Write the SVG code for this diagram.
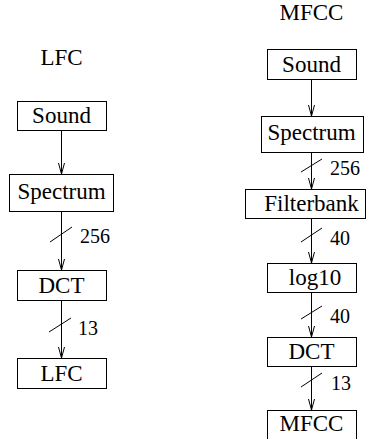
<svg xmlns="http://www.w3.org/2000/svg" width="380" height="439" viewBox="0 0 380 439">
<defs>
<style>
text{font-family:"Liberation Serif",serif;fill:#000;font-size:23px;text-anchor:middle}
text.n{font-size:20px;text-anchor:start}
rect{fill:#fff;stroke:#000;stroke-width:1}
.e{stroke:#000;stroke-width:1;fill:none}
.s{stroke:#000;stroke-width:1}
</style>
<marker id="v" markerUnits="userSpaceOnUse" markerWidth="14" markerHeight="8" refX="11" refY="4" orient="auto" viewBox="0 0 14 8">
<path d="M0,1 L11,4 L0,7" fill="none" stroke="#000" stroke-width="1"/>
</marker>
</defs>
<rect x="0" y="0" width="380" height="439" style="fill:#fff;stroke:none"/>
<text x="61.5" y="65" style="font-family:'Liberation Serif',serif">LFC</text>
<text x="311.5" y="20" style="font-family:'Liberation Serif',serif">MFCC</text>
<g id="connectors">
<line class="e" x1="61.5" y1="130" x2="61.5" y2="174" marker-end="url(#v)"/>
<line class="e" x1="61.5" y1="211" x2="61.5" y2="270" marker-end="url(#v)"/>
<line class="e" x1="61.5" y1="300" x2="61.5" y2="358" marker-end="url(#v)"/>
<line class="s" x1="50" y1="242" x2="72" y2="227"/>
<line class="s" x1="49" y1="332" x2="71" y2="318"/>
<text class="n" x="80" y="243" style="font-family:'Liberation Serif',serif">256</text>
<text class="n" x="78" y="335" style="font-family:'Liberation Serif',serif">13</text>
<line class="e" x1="311.5" y1="79" x2="311.5" y2="116" marker-end="url(#v)"/>
<line class="e" x1="311.5" y1="152" x2="311.5" y2="189" marker-end="url(#v)"/>
<line class="e" x1="311.5" y1="218" x2="311.5" y2="263" marker-end="url(#v)"/>
<line class="e" x1="311.5" y1="292" x2="311.5" y2="337" marker-end="url(#v)"/>
<line class="e" x1="311.5" y1="366" x2="311.5" y2="410" marker-end="url(#v)"/>
<line class="s" x1="301" y1="172" x2="322" y2="159"/>
<line class="s" x1="301" y1="242" x2="322" y2="228"/>
<line class="s" x1="301" y1="319" x2="322" y2="306"/>
<line class="s" x1="301" y1="387" x2="322" y2="373"/>
<text class="n" x="330" y="175" style="font-family:'Liberation Serif',serif">256</text>
<text class="n" x="330" y="245" style="font-family:'Liberation Serif',serif">40</text>
<text class="n" x="330" y="323" style="font-family:'Liberation Serif',serif">40</text>
<text class="n" x="331" y="390" style="font-family:'Liberation Serif',serif">13</text>
</g>
<g id="lfc-sound"><rect x="17.5" y="101.5" width="89" height="29"/><text x="61.5" y="123" style="font-family:'Liberation Serif',serif">Sound</text></g>
<g id="lfc-spectrum"><rect x="9.5" y="174.5" width="104" height="37"/><text x="61.5" y="199" style="font-family:'Liberation Serif',serif">Spectrum</text></g>
<g id="lfc-dct"><rect x="17.5" y="270.5" width="89" height="30"/><text x="61.5" y="293" style="font-family:'Liberation Serif',serif">DCT</text></g>
<g id="lfc-lfc"><rect x="17.5" y="358.5" width="89" height="30"/><text x="61.5" y="381" style="font-family:'Liberation Serif',serif">LFC</text></g>
<g id="mfcc-sound"><rect x="267.5" y="49.5" width="89" height="30"/><text x="311.5" y="72" style="font-family:'Liberation Serif',serif">Sound</text></g>
<g id="mfcc-spectrum"><rect x="261.5" y="116.5" width="102" height="36"/><text x="311.5" y="140" style="font-family:'Liberation Serif',serif">Spectrum</text></g>
<g id="mfcc-filterbank"><rect x="245.5" y="189.5" width="120" height="29"/><text x="311.5" y="211" style="font-family:'Liberation Serif',serif">Filterbank</text></g>
<g id="mfcc-log10"><rect x="267.5" y="263.5" width="89" height="29"/><text x="315" y="285" style="font-family:'Liberation Serif',serif">log10</text></g>
<g id="mfcc-dct"><rect x="267.5" y="337.5" width="89" height="29"/><text x="311.5" y="359" style="font-family:'Liberation Serif',serif">DCT</text></g>
<g id="mfcc-mfcc"><rect x="267.5" y="410.5" width="89" height="30"/><text x="311.5" y="431" style="font-family:'Liberation Serif',serif">MFCC</text></g>
</svg>
